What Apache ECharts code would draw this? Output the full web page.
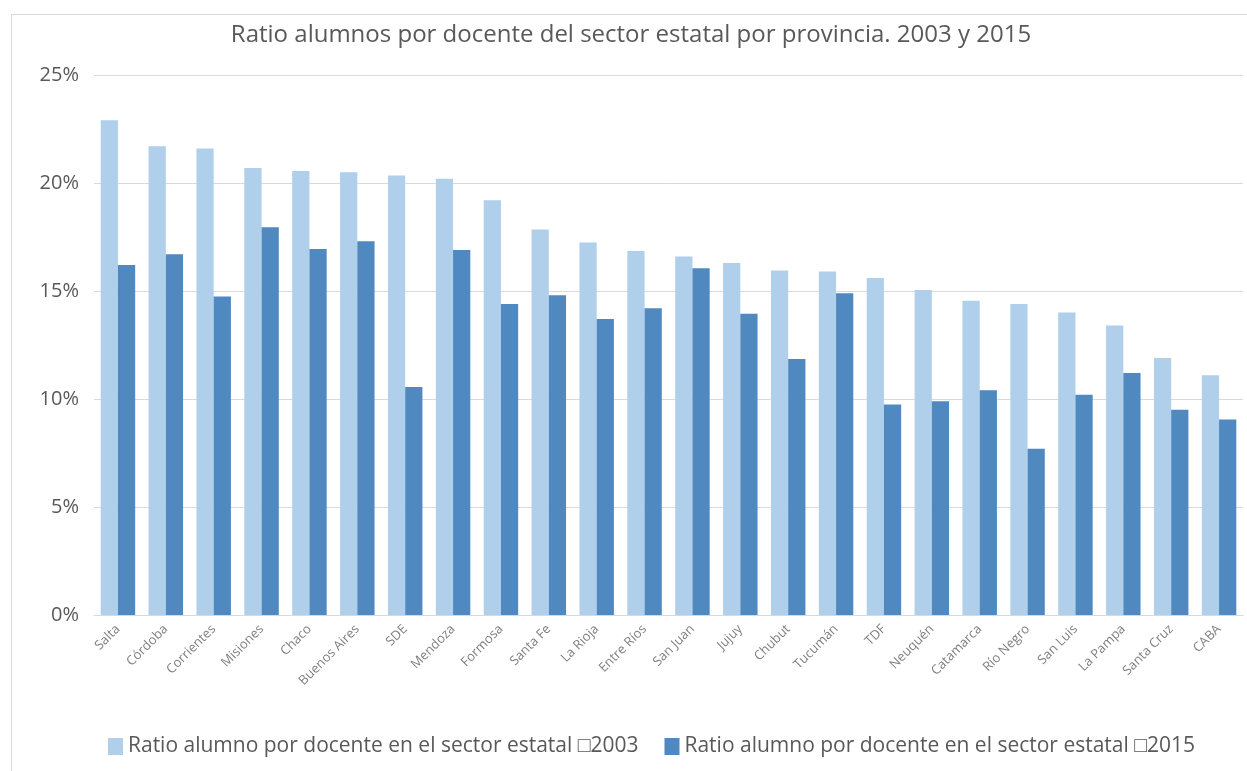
<!DOCTYPE html>
<html>
<head>
<meta charset="utf-8">
<script src="https://cdn.jsdelivr.net/npm/echarts@6/dist/echarts.min.js"></script>
<style>
  html, body { margin: 0; padding: 0; background: #fff; }
  #chart { position: absolute; left: 11px; top: 14px; width: 1240px; height: 760px; border: 1px solid #d9d9d9; box-sizing: border-box; }
</style>
</head>
<body>
<div id="chart"></div>
<script>
const provincias = ['Salta', 'Córdoba', 'Corrientes', 'Misiones', 'Chaco', 'Buenos Aires', 'SDE', 'Mendoza',
  'Formosa', 'Santa Fe', 'La Rioja', 'Entre Ríos', 'San Juan', 'Jujuy', 'Chubut', 'Tucumán', 'TDF',
  'Neuquén', 'Catamarca', 'Río Negro', 'San Luis', 'La Pampa', 'Santa Cruz', 'CABA']
const ratio2003 = [22.9, 21.7, 21.6, 20.7, 20.55, 20.5, 20.35, 20.2, 19.2, 17.85, 17.25, 16.85, 16.6, 16.3,
  15.95, 15.9, 15.6, 15.05, 14.55, 14.4, 14.0, 13.4, 11.9, 11.1]
const ratio2015 = [16.2, 16.7, 14.75, 17.95, 16.95, 17.3, 10.55, 16.9, 14.4, 14.8, 13.7, 14.2, 16.05, 13.95,
  11.85, 14.9, 9.75, 9.9, 10.4, 7.7, 10.2, 11.2, 9.5, 9.05]
const nombre2003 = 'Ratio alumno por docente en el sector estatal \u25A12003'
const nombre2015 = 'Ratio alumno por docente en el sector estatal \u25A12015'
const yTicks = [0, 5, 10, 15, 20, 25]

const chart = echarts.init(document.getElementById('chart'))
const font = 'Open Sans'
chart.setOption({
  animation: false,
  textStyle: { fontFamily: font },
  title: {
    text: 'Ratio alumnos por docente del sector estatal por provincia. 2003 y 2015',
    left: 'center',
    top: 3,
    textStyle: { color: '#595959', fontWeight: 'normal', fontSize: 24, fontFamily: font },
  },
  legend: {
    bottom: 11,
    left: 91,
    itemWidth: 15,
    itemHeight: 17,
    itemGap: 26,
    icon: 'rect',
    textStyle: { color: '#595959', fontSize: 21, fontFamily: font },
    data: [nombre2003, nombre2015],
  },
  grid: { left: 82, right: 7, top: 60, bottom: 158 },
  xAxis: {
    type: 'category',
    data: provincias,
    axisLine: { lineStyle: { color: '#d9d9d9' } },
    axisTick: { show: false },
    axisLabel: { rotate: 45, color: '#7f7f7f', fontSize: 13, interval: 0, margin: 12 },
  },
  yAxis: {
    type: 'value',
    min: yTicks[0],
    max: yTicks[yTicks.length - 1],
    interval: 5,
    axisLine: { show: false },
    axisTick: { show: false },
    axisLabel: { color: '#595959', fontSize: 20, margin: 15, formatter: '{value}%' },
    splitLine: { lineStyle: { color: '#d9d9d9' } },
  },
  series: [
    {
      name: nombre2003,
      type: 'bar',
      data: ratio2003,
      barGap: '0%',
      barCategoryGap: '28%',
      itemStyle: { color: '#afcfeb' },
    },
    {
      name: nombre2015,
      type: 'bar',
      data: ratio2015,
      itemStyle: { color: '#4f89bf' },
    },
  ],
})
</script>
</body>
</html>
